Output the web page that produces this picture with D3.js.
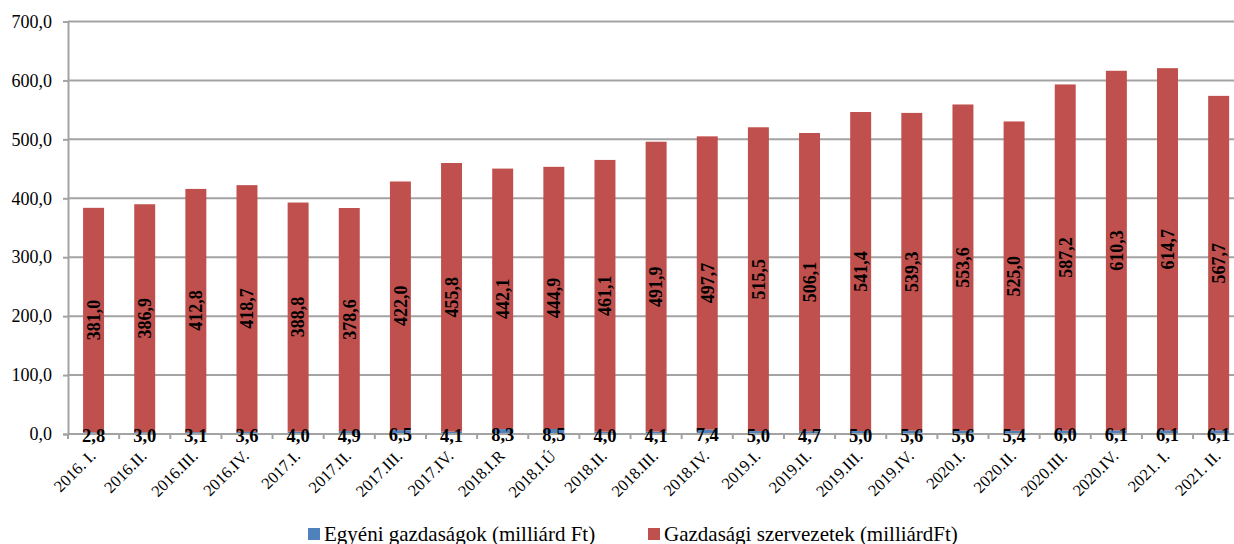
<!DOCTYPE html>
<html>
<head>
<meta charset="utf-8">
<script src="https://cdn.jsdelivr.net/npm/d3@7"></script>
<style>
  html, body { margin: 0; padding: 0; background: #fff; }
  svg { display: block; }
  text { font-family: "Liberation Serif", "Times New Roman", serif; }
</style>
</head>
<body>
<svg id="chart" width="1234" height="544"></svg>
<script>
const categories = ["2016. I.", "2016.II.", "2016.III.", "2016.IV.", "2017.I.", "2017.II.", "2017.III.", "2017.IV.",
  "2018.I.R", "2018.I.Ú", "2018.II.", "2018.III.", "2018.IV.", "2019.I.", "2019.II.", "2019.III.", "2019.IV.",
  "2020.I.", "2020.II.", "2020.III.", "2020.IV.", "2021. I.", "2021. II."];
const egyeni = [2.8, 3.0, 3.1, 3.6, 4.0, 4.9, 6.5, 4.1, 8.3, 8.5, 4.0, 4.1, 7.4, 5.0, 4.7, 5.0, 5.6, 5.6, 5.4, 6.0, 6.1, 6.1, 6.1];
const gazdasagi = [381.0, 386.9, 412.8, 418.7, 388.8, 378.6, 422.0, 455.8, 442.1, 444.9, 461.1, 491.9, 497.7, 515.5, 506.1, 541.4, 539.3, 553.6, 525.0, 587.2, 610.3, 614.7, 567.7];
const yTicks = [0, 100, 200, 300, 400, 500, 600, 700];
const seriesNames = ["Egyéni gazdaságok (milliárd Ft)", "Gazdasági szervezetek (milliárdFt)"];
const seriesColors = ["#4F81BD", "#C0504D"];

const svg = d3.select("#chart");
const plotLeft = 68, bandStep = 51.14, plotTop = 21.5, plotBottom = 434;
const x = d3.scaleBand().domain(categories).range([plotLeft, plotLeft + categories.length * bandStep])
  .paddingInner(0.59).paddingOuter(0.295);
const y = d3.scaleLinear().domain([0, 700]).range([plotBottom, plotTop]);
const fmt = v => d3.format(".1f")(v).replace(".", ",");
const gridColor = "#a3a3a3";

// gridlines
svg.append("g").selectAll("line").data(yTicks.filter(d => d > 0)).join("line")
  .attr("x1", plotLeft).attr("x2", 1234)
  .attr("y1", d => y(d)).attr("y2", d => y(d))
  .attr("stroke", gridColor).attr("stroke-width", 2);

// y axis
const yAxis = d3.axisLeft(y).tickValues(yTicks).tickFormat(fmt).tickSize(5).tickPadding(11);
const yg = svg.append("g").attr("transform", `translate(${plotLeft},0)`).call(yAxis);
yg.select(".domain").attr("stroke", gridColor).attr("stroke-width", 2);
yg.selectAll(".tick line").attr("stroke", gridColor).attr("stroke-width", 2);
yg.selectAll(".tick text").attr("font-size", 18).attr("fill", "#000")
  .attr("font-family", "Liberation Serif");

// stacked data
const stackData = categories.map((c, i) => ({ cat: c, e: egyeni[i], g: gazdasagi[i] }));
const stack = d3.stack().keys(["e", "g"])(stackData);

const layers = svg.append("g").selectAll("g").data(stack).join("g")
  .attr("fill", (d, i) => seriesColors[i]);
layers.selectAll("rect").data(d => d).join("rect")
  .attr("x", d => x(d.data.cat))
  .attr("width", x.bandwidth())
  .attr("y", d => y(d[1]))
  .attr("height", d => y(d[0]) - y(d[1]));

// x axis line
svg.append("line").attr("x1", plotLeft).attr("x2", 1234).attr("y1", plotBottom).attr("y2", plotBottom)
  .attr("stroke", gridColor).attr("stroke-width", 2);
// x ticks at band boundaries
const boundaries = d3.range(categories.length + 1).map(i => plotLeft + i * x.step());
svg.append("g").selectAll("line").data(boundaries).join("line")
  .attr("x1", d => d).attr("x2", d => d).attr("y1", plotBottom).attr("y2", plotBottom + 5)
  .attr("stroke", gridColor).attr("stroke-width", 2);

// x labels
svg.append("g").selectAll("text").data(categories).join("text")
  .attr("transform", d => `translate(${x(d) + x.bandwidth() / 2 + 3},${plotBottom + 23}) rotate(-45)`)
  .attr("text-anchor", "end")
  .attr("font-size", 16.5)
  .attr("fill", "#000")
  .text(d => d);

// value labels - red (rotated, centered)
svg.append("g").selectAll("text").data(stack[1]).join("text")
  .attr("transform", d => `translate(${x(d.data.cat) + x.bandwidth() / 2},${(y(d[0]) + y(d[1])) / 2}) rotate(-90)`)
  .attr("text-anchor", "middle")
  .attr("dy", "0.35em")
  .attr("font-size", 18)
  .attr("font-weight", "bold")
  .attr("fill", "#000")
  .text(d => fmt(d.data.g));

// value labels - blue
svg.append("g").selectAll("text").data(stack[0]).join("text")
  .attr("x", d => x(d.data.cat) + x.bandwidth() / 2)
  .attr("y", d => (y(d[0]) + y(d[1])) / 2)
  .attr("dy", "0.5em")
  .attr("text-anchor", "middle")
  .attr("font-size", 18.5)
  .attr("font-weight", "bold")
  .attr("fill", "#000")
  .text(d => fmt(d.data.e));

// legend
const legendX = [308, 648];
const lg = svg.append("g").selectAll("g").data(seriesNames).join("g")
  .attr("transform", (d, i) => `translate(${legendX[i]},528)`);
lg.append("rect").attr("width", 12).attr("height", 12).attr("fill", (d, i) => seriesColors[i]);
lg.append("text").attr("x", 16).attr("y", 13).attr("font-size", 21).attr("fill", "#000").text(d => d);
</script>
</body>
</html>
